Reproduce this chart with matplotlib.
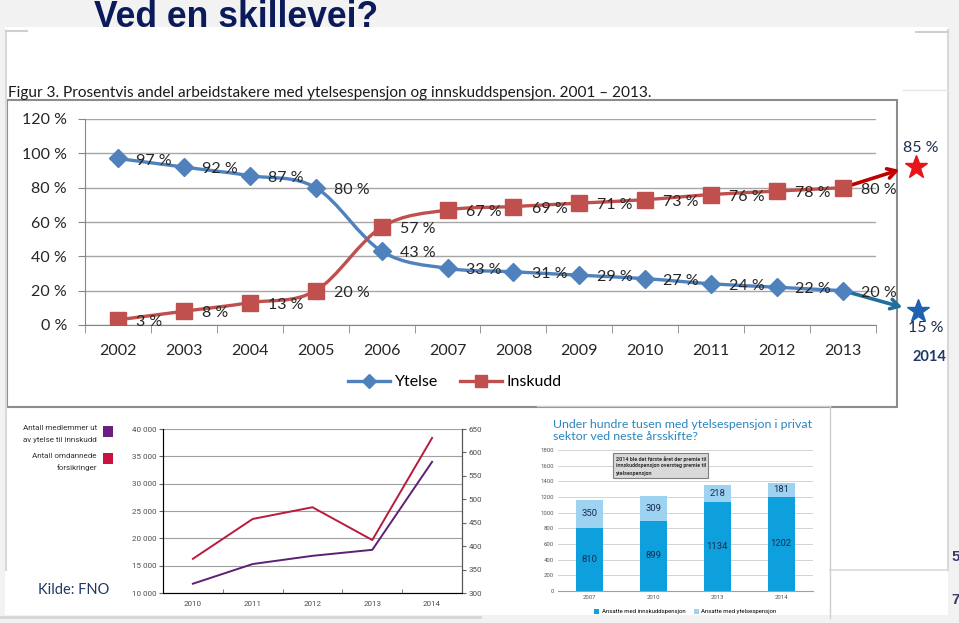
import numpy as np
import matplotlib.pyplot as plt
from matplotlib.path import Path
from matplotlib.patches import PathPatch, Rectangle
from matplotlib.lines import Line2D

W, H = 959, 623

# main chart: share of employees (%)
years = ['2002', '2003', '2004', '2005', '2006', '2007',
         '2008', '2009', '2010', '2011', '2012', '2013']
ytelse = [97, 92, 87, 80, 43, 33, 31, 29, 27, 24, 22, 20]
inskudd = [3, 8, 13, 20, 57, 67, 69, 71, 73, 76, 78, 80]
proj_year = '2014'
proj_inskudd = '85 %'
proj_ytelse = '15 %'

# FNO chart
fno_years = ['2010', '2011', '2012', '2013', '2014']
medlemmer = [11700, 15300, 16800, 17900, 34000]   # left axis
omdannede = [373, 458, 483, 413, 631]             # right axis

# bar chart
bar_years = ['2007', '2010', '2013', '2014']
ansatte_innskudd = [810, 899, 1134, 1202]
ansatte_ytelse = [350, 309, 218, 181]

BLUE = '#4f81bd'
RED = '#c0504d'

fig = plt.figure(figsize=(W / 100, H / 100), dpi=100)
fig.patch.set_facecolor('#f2f2f2')


def px_axes(x0, y0, x1, y1, z=1):
    a = fig.add_axes([x0 / W, 1 - y1 / H, (x1 - x0) / W, (y1 - y0) / H])
    a.set_zorder(z)
    a.patch.set_alpha(0)
    return a


def smooth_path(xs, ys):
    n = len(xs)
    verts = [(xs[0], ys[0])]
    codes = [Path.MOVETO]
    for i in range(n - 1):
        p0 = max(i - 1, 0)
        p3 = min(i + 2, n - 1)
        c1 = (xs[i] + (xs[i + 1] - xs[p0]) / 6, ys[i] + (ys[i + 1] - ys[p0]) / 6)
        c2 = (xs[i + 1] - (xs[p3] - xs[i]) / 6, ys[i + 1] - (ys[p3] - ys[i]) / 6)
        verts += [c1, c2, (xs[i + 1], ys[i + 1])]
        codes += [Path.CURVE4] * 3
    return Path(verts, codes)


# background overlay in pixel coordinates
bg = fig.add_axes([0, 0, 1, 1])
bg.set_zorder(0)
bg.set_xlim(0, W)
bg.set_ylim(H, 0)
bg.axis('off')

bg.add_patch(Rectangle((5, 27), 943, 588, fc='white', ec='none'))
bg.plot([6, 6], [31, 570], color='#d9d9d9', lw=1.5)
bg.plot([6, 27], [31, 31], color='#cfcfcf', lw=1.5)
bg.plot([948, 948], [30, 570], color='#d9d9d9', lw=1.5)
bg.plot([916, 948], [32, 32], color='#cfcfcf', lw=1.5)
bg.plot([903, 948], [90, 90], color='#e6e6e6', lw=1)
bg.plot([830, 948], [570, 570], color='#d9d9d9', lw=1.2)
bg.plot([0, 480], [617, 617], color='#d6d6d6', lw=2)
bg.plot([537, 830], [406, 406], color='#cfcfcf', lw=1)
bg.plot([830, 830], [406, 618], color='#cfcfcf', lw=1)

bg.text(236.5, 27, 'Ved en skillevei?', ha='center', va='baseline',
        fontsize=25.6, weight='bold', family='Liberation Sans', color='#0b1a5a')
bg.text(8, 97, 'Figur 3. Prosentvis andel arbeidstakere med ytelsespensjon og '
        'innskuddspensjon. 2001 \u2013 2013.', va='baseline', fontsize=11.1,
        family='Lato', color='#1a1a1a')
bg.add_patch(Rectangle((7, 100), 890, 307, fill=False, ec='#8c8c8c', lw=1.5))

# ---- main chart ----
ax = px_axes(85, 119, 876, 325, z=2)
x = np.arange(len(years))
ax.set_xlim(-0.5, len(years) - 0.5)
ax.set_ylim(0, 120)
ax.set_yticks(range(0, 121, 20))
ax.set_yticklabels([f'{v} %' for v in range(0, 121, 20)])
ax.set_xticks(x)
ax.set_xticklabels(years)
ax.set_xticks(np.arange(-0.5, len(years), 1), minor=True)
ax.tick_params(axis='x', which='major', length=0, pad=14)
ax.tick_params(axis='x', which='minor', length=6, color='#868686')
ax.tick_params(axis='y', length=5, color='#868686', pad=8)
for lab in ax.get_xticklabels() + ax.get_yticklabels():
    lab.set_fontfamily('Lato')
    lab.set_fontsize(11.5)
    lab.set_color('#262626')
ax.grid(axis='y', color='#a6a6a6', lw=1)
ax.set_axisbelow(True)
for s in ['top', 'right']:
    ax.spines[s].set_visible(False)
for s in ['left', 'bottom']:
    ax.spines[s].set_color('#868686')

for vals, col, mk, ms in [(ytelse, BLUE, 'D', 9.5), (inskudd, RED, 's', 11)]:
    ax.add_patch(PathPatch(smooth_path(x, vals), fc='none', ec=col, lw=2.4, zorder=3))
    ax.plot(x, vals, ls='none', marker=mk, ms=ms, color=col, zorder=4)
    for xi, v in zip(x, vals):
        ax.annotate(f'{v} %', (xi, v), xytext=(13, -1.5), textcoords='offset points',
                    ha='left', va='center', fontsize=11.5, family='Lato',
                    color='#262626', zorder=5)

handles = [Line2D([], [], color=BLUE, lw=2.4, marker='D', ms=7),
           Line2D([], [], color=RED, lw=2.4, marker='s', ms=9)]
fig.legend(handles, ['Ytelse', 'Inskudd'], loc='center',
           bbox_to_anchor=(455 / W, 1 - 382 / H), ncol=2, frameon=False,
           prop={'family': 'Lato', 'size': 11.5}, handlelength=2.6,
           handletextpad=0.3, columnspacing=1.4)

# projection to 2014
ax.annotate('', xy=(902, 169), xycoords=bg.transData,
            xytext=(len(years) - 1, inskudd[-1]), textcoords='data',
            arrowprops=dict(arrowstyle='->,head_length=0.6,head_width=0.35',
                            color='#c00000', lw=2.6), annotation_clip=False)
ax.annotate('', xy=(905, 308), xycoords=bg.transData,
            xytext=(len(years) - 1, ytelse[-1]), textcoords='data',
            arrowprops=dict(arrowstyle='->,head_length=0.6,head_width=0.35',
                            color='#1f6e9c', lw=2.6), annotation_clip=False)
fg = fig.add_axes([0, 0, 1, 1])
fg.set_zorder(3)
fg.set_xlim(0, W)
fg.set_ylim(H, 0)
fg.axis('off')
fg.plot(916, 167, marker='*', ms=17, color='#e8141b', clip_on=False)
fg.plot(918, 311, marker='*', ms=17, color='#1f62b0', clip_on=False)
fg.text(921, 148, proj_inskudd, ha='center', va='center', fontsize=11.5,
        family='Lato', color='#1f2d4f')
fg.text(926, 328, proj_ytelse, ha='center', va='center', fontsize=11.5,
        family='Lato', color='#1f2d4f')
fg.text(929, 357, proj_year, ha='center', va='center', fontsize=10.5,
        weight='bold', family='Lato', color='#1f3864')

# ---- FNO chart ----
PURPLE = '#5e1f74'
CRIMSON = '#b81a40'
bg.add_patch(Rectangle((103, 426), 10, 11, fc='#6a1f80', ec='none'))
bg.add_patch(Rectangle((103, 453), 10, 11, fc='#c8123f', ec='none'))
for txt, yy in [('Antall medlemmer ut', 428), ('av ytelse til innskudd', 440),
                ('Antall omdannede', 456), ('forsikringer', 468)]:
    bg.text(97, yy, txt, ha='right', va='center', fontsize=5.8,
            family='Roboto', color='#333333')
bg.text(38, 590, 'Kilde: FNO', ha='left', va='center', fontsize=10.5,
        family='Lato', color='#1f3864')

ax2 = px_axes(163, 429, 462, 593, z=2)
fx = np.arange(len(fno_years))
ax2.set_xlim(-0.5, len(fno_years) - 0.5)
ax2.set_ylim(10000, 40000)
ax2.set_yticks(range(10000, 40001, 5000))
ax2.set_yticklabels([f'{v:,}'.replace(',', ' ') for v in range(10000, 40001, 5000)])
ax2.set_xticks(fx)
ax2.set_xticklabels(fno_years)
ax2.set_xticks(np.arange(-0.5, len(fno_years), 1), minor=True)
ax2.tick_params(axis='x', which='major', length=0, pad=6)
ax2.tick_params(axis='x', which='minor', direction='in', length=3, color='#666666')
ax2.tick_params(axis='y', length=3, color='#666666', pad=2)
ax2.grid(axis='y', color='#a0a0a0', lw=0.8)
ax2.set_axisbelow(True)
ax2.spines['top'].set_visible(False)
for s in ['left', 'bottom', 'right']:
    ax2.spines[s].set_color('#555555')
ax2.plot(fx, medlemmer, color=PURPLE, lw=1.4)
ax2r = ax2.twinx()
ax2r.set_ylim(300, 650)
ax2r.set_yticks(range(300, 651, 50))
ax2r.tick_params(axis='y', length=3, color='#666666', pad=2)
ax2r.spines['top'].set_visible(False)
ax2r.spines['right'].set_color('#555555')
ax2r.plot(fx, omdannede, color=CRIMSON, lw=1.4)
for lab in (ax2.get_xticklabels() + ax2.get_yticklabels()
            + ax2r.get_yticklabels()):
    lab.set_fontfamily('Roboto')
    lab.set_fontsize(5.8)
    lab.set_color('#4d4d4d')

# ---- bar chart ----
bg.text(553, 424, 'Under hundre tusen med ytelsespensjon i privat', va='center',
        fontsize=8.9, family='Lato', color='#2a86c0')
bg.text(553, 437, 'sektor ved neste \u00e5rsskifte?', va='center',
        fontsize=8.9, family='Lato', color='#2a86c0')

ax3 = px_axes(558, 450, 813, 591, z=2)
bx = np.arange(len(bar_years))
ax3.set_xlim(-0.5, len(bar_years) - 0.5)
ax3.set_ylim(0, 1800)
ax3.set_yticks(range(0, 1801, 200))
ax3.set_xticks(bx)
ax3.set_xticklabels(bar_years)
ax3.tick_params(length=0, pad=3)
ax3.grid(axis='y', color='#cccccc', lw=0.6)
ax3.set_axisbelow(True)
for s in ['top', 'right', 'left']:
    ax3.spines[s].set_visible(False)
ax3.spines['bottom'].set_color('#a0a0a0')
for lab in ax3.get_xticklabels() + ax3.get_yticklabels():
    lab.set_fontfamily('Roboto')
    lab.set_fontsize(4.3)
    lab.set_color('#555555')
ax3.bar(bx, ansatte_innskudd, width=0.42, color='#0da0dc',
        label='Ansatte med innskuddspensjon')
ax3.bar(bx, ansatte_ytelse, width=0.42, bottom=ansatte_innskudd,
        color='#9dd3f0', label='Ansatte med ytelsespensjon')
for xi, a, b in zip(bx, ansatte_innskudd, ansatte_ytelse):
    ax3.text(xi, a / 2, str(a), ha='center', va='center', fontsize=6.8,
             family='Roboto', color='#1c2b4f')
    ax3.text(xi, a + b / 2, str(b), ha='center', va='center', fontsize=6.8,
             family='Roboto', color='#1c2b4f')
ax3.legend(loc='upper center', bbox_to_anchor=(0.5, -0.09), ncol=2,
           frameon=False, prop={'family': 'Roboto', 'size': 4.3},
           handlelength=0.8, handleheight=0.8, handletextpad=0.4,
           columnspacing=1.5)

fg.add_patch(Rectangle((613, 453), 95, 25, fc='#d9d9d9', ec='#7f7f7f', lw=0.8))
for txt, yy in [('2014 ble det f\u00f8rste \u00e5ret der premie til', 459),
                ('innskuddspensjon oversteg premie til', 466),
                ('ytelsespensjon', 473)]:
    fg.text(616, yy, txt, va='center', fontsize=3.9, weight='bold',
            family='Roboto', color='#333333')

# slide numbers cut at the edge
bg.text(951, 557, '5', va='center', fontsize=11, weight='bold',
        family='Liberation Sans', color='#3b3b6b')
bg.text(951, 600, '7', va='center', fontsize=11, weight='bold',
        family='Liberation Sans', color='#3b3b6b')

fig.savefig('out.png', dpi=100, facecolor=fig.get_facecolor())
